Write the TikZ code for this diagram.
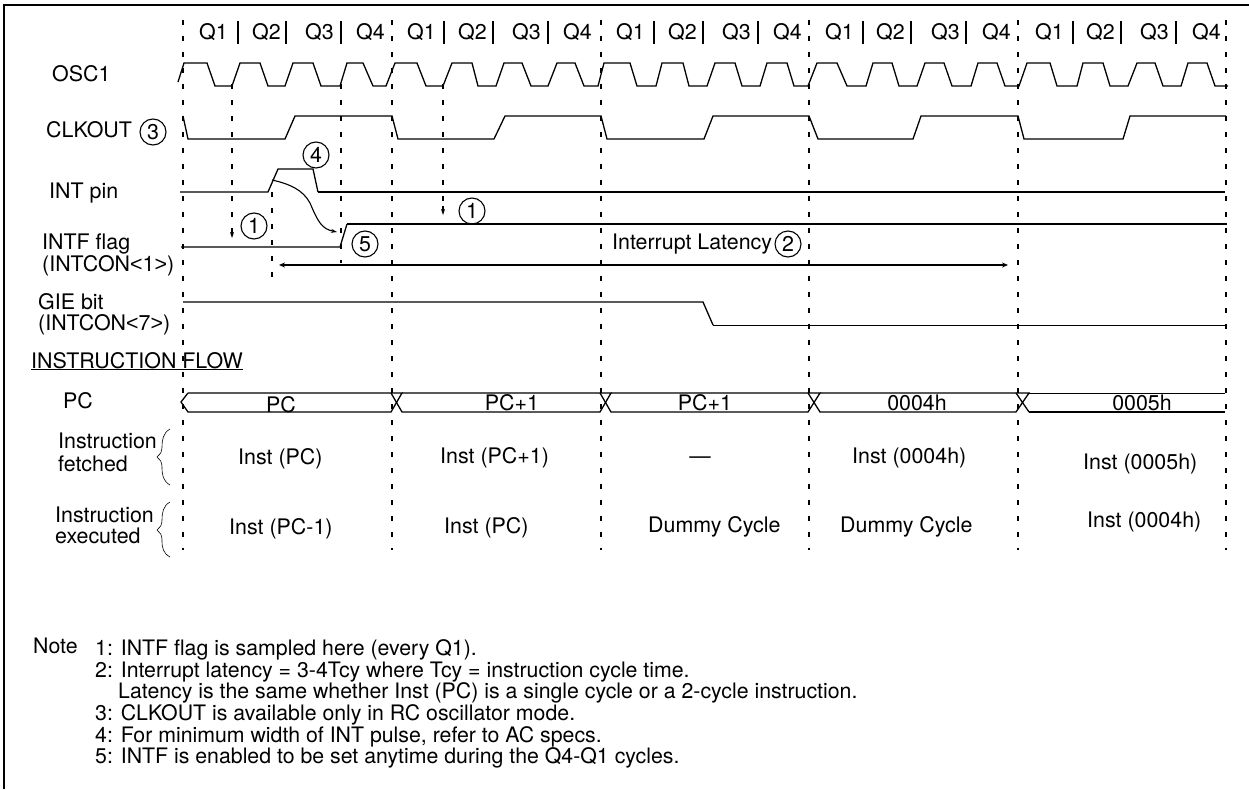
\documentclass[tikz,border=0pt]{standalone}
\usepackage{fontspec}
\setmainfont{TeX Gyre Heros}
\newfontfamily\libfont{Liberation Sans}
\usetikzlibrary{arrows.meta}
\tikzset{
  lbl/.style={anchor=base west,inner sep=0pt,font=\fontsize{21.4}{24}\selectfont},
  ctr/.style={anchor=base,inner sep=0pt,font=\fontsize{21.4}{24}\selectfont},
  notetext/.style={anchor=base west,inner sep=0pt,font=\fontsize{21.3}{24}\selectfont},
  cnum/.style={circle,draw,line width=1.1pt,minimum size=26pt,inner sep=0pt,font=\fontsize{21.4}{24}\selectfont},
  clockdash/.style={line width=2pt,dash pattern=on 5pt off 11pt},
  wave/.style={line width=1.3pt,line join=miter},
  heavy/.style={line width=1.8pt},
  tick/.style={line width=2pt},
  thinbrace/.style={line width=0.6pt},
  smallhead/.style={-{Stealth[length=6pt,width=4pt]}}
}
\begin{document}
\begin{tikzpicture}[x=1pt,y=-1pt]
\useasboundingbox (0,0) rectangle (1249,789);
\fill[white] (0,0) rectangle (1249,789);
% frame
\draw[line width=2.4pt] (4,789) -- (4,5) -- (1249,5);
% main dashed lines
\foreach \x in {183,392,601,809,1018,1226}
  \draw[clockdash] (\x,20) -- (\x,550);
\draw[clockdash] (232,84) -- (232,232);
\draw[clockdash] (443,84) -- (443,208);
\draw[clockdash] (272,192) -- (272,287);
\draw[clockdash] (341,84) -- (341,263);
% Q separators
\foreach \x in {238,286,341,444,493,548,654,703,758,863,911,966,1073,1121,1176}
  \draw[tick] (\x,21) -- (\x,44);
% Q labels
\foreach \x/\t [count=\i] in {199/Q1,252/Q2,305/Q3,356/Q4,407/Q1,458/Q2,512/Q3,563/Q4,616/Q1,668/Q2,722/Q3,773/Q4,825/Q1,876/Q2,931/Q3,982/Q4,1035/Q1,1086/Q2,1140/Q3,1192/Q4}
  \node[lbl] (q\i) at (\x,40) {\t};
% OSC1
\draw[wave] (178,82) -- (184,63) -- (207,63) -- (215,86) -- (232,86) -- (240,63) -- (260,63) -- (268,86) -- (285,86) -- (293,63) -- (313,63) -- (321,86) -- (340,86) -- (347,63) -- (363,63) -- (373,86) -- (386,86) -- (395,63) -- (417,63) -- (426,86) -- (443,86) -- (452,63) -- (472,63) -- (478,86) -- (496,86) -- (504,63) -- (522,63) -- (531,86) -- (548,86) -- (557,63) -- (575,63) -- (584,86) -- (598,86) -- (604,63) -- (630,63) -- (637,86) -- (656,86) -- (662,63) -- (683,63) -- (689,86) -- (707,86) -- (715,63) -- (735,63) -- (742,86) -- (760,86) -- (767,63) -- (787,63) -- (794,86) -- (808,86) -- (817,63) -- (837,63) -- (847,86) -- (866,86) -- (873,63) -- (892,63) -- (899,86) -- (917,86) -- (925,63) -- (944,63) -- (952,86) -- (971,86) -- (978,63) -- (997,63) -- (1005,86) -- (1019,86) -- (1027,63) -- (1050,63) -- (1057,86) -- (1077,86) -- (1083,63) -- (1103,63) -- (1110,86) -- (1128,86) -- (1137,63) -- (1155,63) -- (1163,86) -- (1181,86) -- (1188,63) -- (1207,63) -- (1215,86) -- (1228,86);
% CLKOUT
\draw[wave] (183,116) -- (188,139) -- (285,139) -- (295,116) -- (392,116) -- (398,139) -- (494,139) -- (505,116) -- (601,116) -- (607,139) -- (704,139) -- (713,116) -- (809,116) -- (818,139) -- (913,139) -- (921,116) -- (1018,116) -- (1024,139) -- (1123,139) -- (1130,116) -- (1226,116);
% INT pin
\draw[wave] (180,192) -- (268,192) -- (278,169) -- (313,169) -- (318,192);
\draw[heavy] (318,192) -- (1225,192);
% INTF flag
\draw[wave] (181,247) -- (340,247) -- (347,224);
\draw[heavy] (347,224) -- (1227,224);
% GIE bit
\draw[wave] (183,302) -- (703,302) -- (713,325);
\draw[heavy] (713,325.5) -- (1226,325.5);
% PC bus
\draw[wave] (188,393) -- (181,402) -- (188,412) -- (391,412) -- (402,393) -- (188,393);
\draw[wave] (391,393) -- (402,412) -- (600,412) -- (611,393) -- (402,393);
\draw[wave] (600,393) -- (611,412) -- (808,412) -- (820,393) -- (611,393);
\draw[wave] (808,393) -- (820,412) -- (1016,412) -- (1029,393) -- (820,393);
\draw[wave] (1016,393) -- (1029,412);
\draw[heavy] (1029,412) -- (1225,412);
\draw[heavy] (1029,393.5) -- (1225,393.5);
% arrows on sampling lines
\coordinate (s1a) at (232,229); \coordinate (s1b) at (232,238);
\coordinate (s2a) at (443,206); \coordinate (s2b) at (443,215);
\draw[smallhead,line width=1.5pt] (s1a) -- (s1b);
\draw[smallhead,line width=1.5pt] (s2a) -- (s2b);
% latency arrow
\coordinate (latl) at (279,265); \coordinate (latr) at (1008,265);
\draw[line width=1.8pt,{Stealth[length=6pt,width=5pt]}-{Stealth[length=6pt,width=5pt]}] (latl) -- (latr);
% curve INT to INTF
\coordinate (cs) at (272,180); \coordinate (ce) at (337,232);
\draw[line width=1.1pt,smallhead] (cs) .. controls (290,184) and (303,190) .. (310,203) .. controls (318,222) and (322,229) .. (ce);
% left labels
\node[lbl] (osc) at (52,82) {OSC1};
\node[lbl] (clk) at (46,138) {CLKOUT};
\node[lbl] (intp) at (49,198) {INT pin};
\node[lbl] (intf) at (42,249) {INTF flag};
\node[lbl] (intc1) at (42,271) {(INTCON{\libfont<}1{\libfont>})};
\node[lbl] (gie) at (38,309) {GIE bit};
\node[lbl] (intc7) at (38,330) {(INTCON{\libfont<}7{\libfont>})};
\node[lbl] (flow) at (31,368) {INSTRUCTION FLOW};
\draw[line width=1.1pt] ([yshift=-1.5pt]flow.base west) -- ([yshift=-1.5pt]flow.base east);
\node[lbl] (pcl) at (63,408) {PC};
\node[lbl] (if1) at (58,448) {Instruction};
\node[lbl] (if2) at (58,471) {fetched};
\node[lbl] (ie1) at (55,522) {Instruction};
\node[lbl] (ie2) at (55,543) {executed};
% braces
\draw[thinbrace] (170,429) .. controls (163,433) and (162,440) .. (162,447) .. controls (162,452) and (160,455) .. (157,457) .. controls (160,459) and (162,462) .. (162,467) .. controls (162,475) and (163,481) .. (170,485);
\draw[thinbrace] (170,502) .. controls (163,506) and (162,513) .. (162,520) .. controls (162,525) and (160,528) .. (157,530) .. controls (160,532) and (162,535) .. (162,540) .. controls (162,548) and (163,553) .. (170,557);
% circled numbers
\node[cnum] (c3) at (153,132) {3};
\node[cnum] (c4) at (316,155) {4};
\node[cnum] (c1a) at (254,226) {1};
\node[cnum] (c5) at (365,244) {5};
\node[cnum] (c1b) at (472,211) {1};
\node[cnum] (c2) at (788,244) {2};
\node[lbl] (lat) at (612,249) {Interrupt Latency};
% PC values
\node[ctr] (pv1) at (281,412) {PC};
\node[ctr] (pv2) at (512,410) {PC+1};
\node[ctr] (pv3) at (705,410) {PC+1};
\node[ctr] (pv4) at (917,410) {0004h};
\node[ctr] (pv5) at (1142,410) {0005h};
% fetched
\node[lbl] (f1) at (238,464) {Inst (PC)};
\node[lbl] (f2) at (440,463) {Inst (PC+1)};
\node[ctr] (f3) at (700,463) {—};
\node[lbl] (f4) at (852,463) {Inst (0004h)};
\node[lbl] (f5) at (1083,469) {Inst (0005h)};
% executed
\node[lbl] (e1) at (229,534) {Inst (PC-1)};
\node[lbl] (e2) at (444,533) {Inst (PC)};
\node[lbl] (e3) at (648,532) {Dummy Cycle};
\node[lbl] (e4) at (840,532) {Dummy Cycle};
\node[lbl] (e5) at (1087,527) {Inst (0004h)};
% notes
\node[notetext] (note) at (33,653) {Note};
\node[notetext] (n1) at (95,655) {1: INTF flag is sampled here (every Q1).};
\node[notetext] (n2) at (95,677) {2: Interrupt latency = 3-4Tcy where Tcy = instruction cycle time.};
\node[notetext] (n2b) at (118,698) {Latency is the same whether Inst (PC) is a single cycle or a 2-cycle instruction.};
\node[notetext] (n3) at (95,720) {3: CLKOUT is available only in RC oscillator mode.};
\node[notetext] (n4) at (95,742) {4: For minimum width of INT pulse, refer to AC specs.};
\node[notetext] (n5) at (95,763) {5: INTF is enabled to be set anytime during the Q4-Q1 cycles.};
\end{tikzpicture}
\end{document}
